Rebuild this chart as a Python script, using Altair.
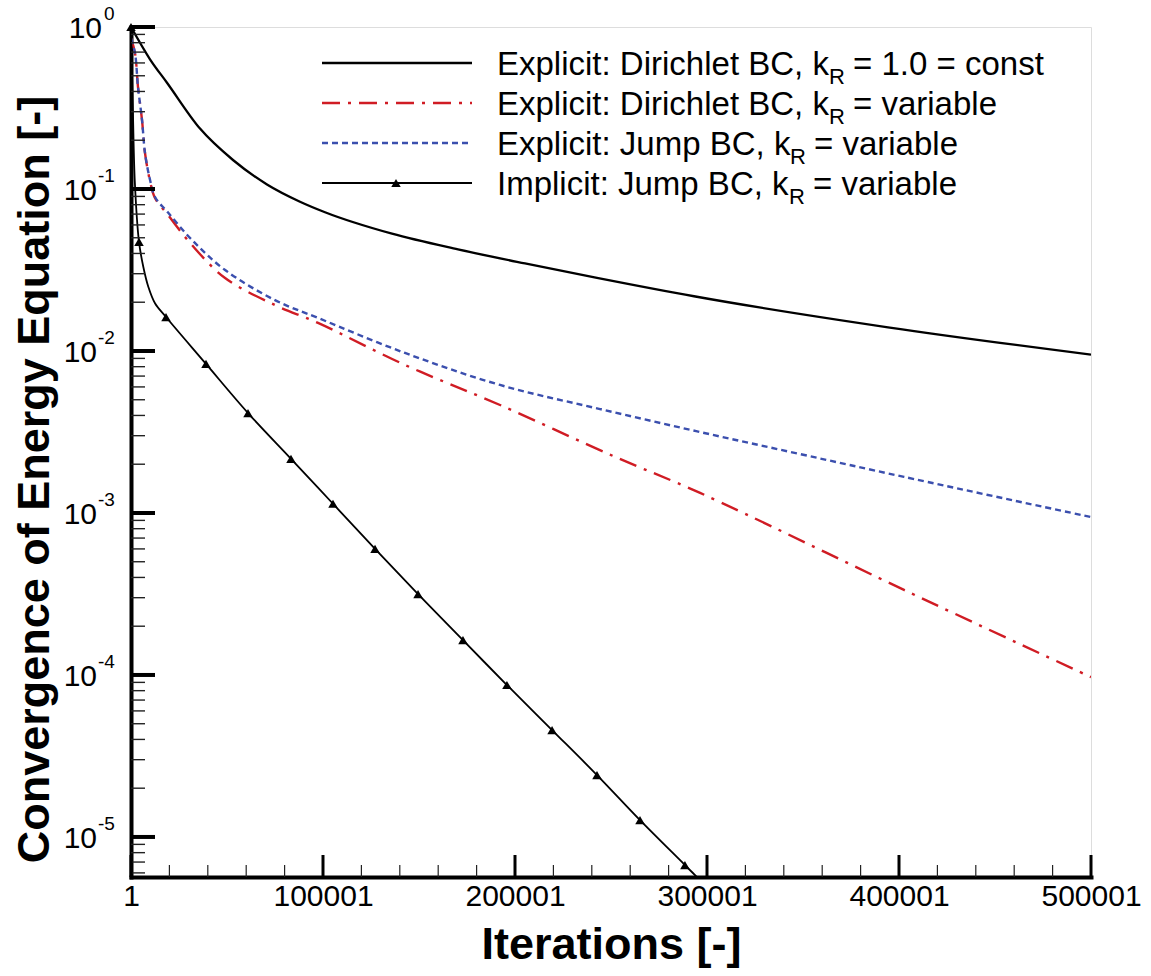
import altair as alt
import pandas as pd

FONT = "Liberation Sans, Arial, Helvetica, sans-serif"

# ---------------- data ----------------
const_iter = [1, 9900, 18750, 35940, 53120, 70830, 88020, 101040, 135940, 170310, 205210, 242700, 293230, 394270, 500001]
const_val = [1.0, 0.632, 0.453, 0.236, 0.151, 0.1067, 0.0835, 0.0719, 0.0530, 0.0424, 0.0347, 0.0283, 0.02177, 0.0140, 0.00949]

dir_iter = [1, 2080, 3650, 5730, 7290, 9900, 12500, 19300, 31800, 49000, 75000, 97400, 142700, 192200, 252100, 296400, 402600, 500001]
dir_val = [0.85, 0.69, 0.426, 0.267, 0.167, 0.112, 0.088, 0.069, 0.045, 0.0282, 0.0192, 0.0149, 0.0082, 0.00464, 0.00222, 0.00133, 0.000335, 0.000097]

jump_iter = [1, 2080, 3650, 5730, 7290, 9900, 12500, 19300, 31800, 49000, 75000, 97400, 142700, 192200, 244300, 296400, 348500, 402600, 500001]
jump_val = [0.85, 0.69, 0.426, 0.267, 0.167, 0.114, 0.0893, 0.0715, 0.0484, 0.0316, 0.0206, 0.0160, 0.00972, 0.00617, 0.00438, 0.00316, 0.00231, 0.00167, 0.000944]

impl_iter = [1, 1000, 2000, 4170, 6400, 9010, 12500, 18230, 39060, 60940, 83330, 105200, 127100, 149500, 172900, 195800, 219300, 242700, 265100, 288500, 300000]
impl_val = [1.0, 0.3, 0.11, 0.0471, 0.0331, 0.0249, 0.0197, 0.0162, 0.00832, 0.00414, 0.00216, 0.00114, 0.00060, 0.000316, 0.000164, 0.0000867, 0.0000457, 0.0000241, 0.0000127, 0.00000671, 0.0000049]

marker_iter = [1, 4170, 18230, 39060, 60940, 83330, 105200, 127100, 149500, 172900, 195800, 219300, 242700, 265100, 288500]
marker_val = [1.0, 0.0471, 0.0162, 0.00832, 0.00414, 0.00216, 0.00114, 0.00060, 0.000316, 0.000164, 0.0000867, 0.0000457, 0.0000241, 0.0000127, 0.00000671]

x_major = [1, 100001, 200001, 300001, 400001, 500001]
x_minor = [1 + 20000 * k for k in range(1, 25) if k % 5 != 0]
y_major = [1.0, 0.1, 0.01, 0.001, 0.0001, 0.00001]
y_exponents = ["0", "-1", "-2", "-3", "-4", "-5"]
y_minor = [m * d for d in [0.1, 0.01, 0.001, 0.0001, 0.00001, 0.000001] for m in range(2, 10) if m * d >= 5.66e-6]

legend_prefix = ["Explicit: Dirichlet BC, k", "Explicit: Dirichlet BC, k", "Explicit: Jump BC, k", "Implicit: Jump BC, k"]
legend_suffix = ["= 1.0 = const", "= variable", "= variable", "= variable"]
legend_sub = "R"

# ---------------- scales / axes ----------------
W, H = 960, 850
xs = alt.Scale(domain=[1, 500001], nice=False, zero=False)
ys = alt.Scale(type="log", domain=[5.66e-6, 1.0], nice=False)

xaxis = alt.Axis(
    values=x_major, format="d", ticks=False, tickSize=0, grid=False,
    domainColor="black", domainWidth=4, domainCap="square",
    labelFont=FONT, labelFontSize=30, labelColor="black", labelPadding=4,
    labelFlush=False, labelOverlap=False,
    title="Iterations [-]", titleFont=FONT, titleFontSize=45, titleFontWeight="bold",
    titleColor="black", titleX=480, titleY=81, titleAlign="center", titleBaseline="alphabetic",
)
yaxis = alt.Axis(
    labels=False, ticks=False, tickSize=0, grid=False,
    domainColor="black", domainWidth=4, domainCap="square",
    title="Convergence of Energy Equation [-]", titleFont=FONT, titleFontSize=45,
    titleFontWeight="bold", titleColor="black", titleAngle=270, titleX=-83, titleY=452,
    titleAlign="center", titleBaseline="alphabetic",
)

X = lambda: alt.X("iter:Q", scale=xs, axis=xaxis)
Y = lambda: alt.Y("val:Q", scale=ys, axis=yaxis)


def df(it, v):
    return pd.DataFrame({"iter": it, "val": v})


layers = []

# curves
layers.append(alt.Chart(df(const_iter, const_val)).mark_line(
    color="black", strokeWidth=2.3, interpolate="monotone", clip=True).encode(x=X(), y=Y()))
layers.append(alt.Chart(df(dir_iter, dir_val)).mark_line(
    color="#d01c24", strokeWidth=2.4, strokeDash=[18, 8, 3, 8], interpolate="catmull-rom", clip=True
).encode(x=X(), y=Y()))
layers.append(alt.Chart(df(jump_iter, jump_val)).mark_line(
    color="#3b4fae", strokeWidth=2.4, strokeDash=[6, 4], interpolate="catmull-rom", clip=True
).encode(x=X(), y=Y()))
layers.append(alt.Chart(df(impl_iter, impl_val)).mark_line(
    color="black", strokeWidth=1.8, interpolate="catmull-rom", clip=True).encode(x=X(), y=Y()))
layers.append(alt.Chart(df(marker_iter, marker_val)).mark_point(
    shape="triangle-up", filled=True, color="black", size=90, opacity=1).encode(x=X(), y=Y()))

# y ticks (inward)
layers.append(alt.Chart(pd.DataFrame({"val": y_major})).mark_rule(
    color="black", strokeWidth=4).encode(y=Y(), x=alt.value(0), x2=alt.value(24)))
layers.append(alt.Chart(pd.DataFrame({"val": y_minor})).mark_rule(
    color="#222222", strokeWidth=1.4).encode(y=Y(), x=alt.value(0), x2=alt.value(14)))
# x ticks (inward)
layers.append(alt.Chart(pd.DataFrame({"iter": x_major})).mark_rule(
    color="black", strokeWidth=3).encode(x=X(), y=alt.value(H), y2=alt.value(H - 22)))
layers.append(alt.Chart(pd.DataFrame({"iter": x_minor})).mark_rule(
    color="#222222", strokeWidth=1.2).encode(x=X(), y=alt.value(H), y2=alt.value(H - 12)))

# y tick labels 10^n (10^0 has a narrower exponent, so it sits further right)
ylab = pd.DataFrame({"val": y_major, "exp": y_exponents})
ylab0 = ylab.iloc[:1]
ylabn = ylab.iloc[1:]
for part, x10, xexp in [(ylab0, -29, -27), (ylabn, -34, -33)]:
    layers.append(alt.Chart(part).mark_text(
        text="10", align="right", baseline="alphabetic", dy=11, font=FONT, fontSize=30, color="black"
    ).encode(y=Y(), x=alt.value(x10)))
    layers.append(alt.Chart(part).mark_text(
        align="left", baseline="alphabetic", dy=-7, font=FONT, fontSize=19, color="black"
    ).encode(y=Y(), x=alt.value(xexp), text="exp:N"))

# legend
one = pd.DataFrame({"k": [0]})
rows_y = [36, 76, 116, 156]
sub_x = [698, 698, 659, 658]
suf_x = [722, 722, 683, 682]
styles = [
    dict(color="black", strokeWidth=2.3),
    dict(color="#d01c24", strokeWidth=2.4, strokeDash=[18, 8, 3, 8]),
    dict(color="#3b4fae", strokeWidth=2.4, strokeDash=[6, 4]),
    dict(color="black", strokeWidth=1.8),
]
for i in range(4):
    yy = rows_y[i]
    layers.append(alt.Chart(one).mark_rule(**styles[i]).encode(
        x=alt.value(191), x2=alt.value(341), y=alt.value(yy)))
    layers.append(alt.Chart(one).mark_text(
        text=legend_prefix[i], align="left", baseline="alphabetic", font=FONT, fontSize=33, color="black"
    ).encode(x=alt.value(366), y=alt.value(yy + 12)))
    layers.append(alt.Chart(one).mark_text(
        text=legend_sub, align="left", baseline="alphabetic", font=FONT, fontSize=22, color="black"
    ).encode(x=alt.value(sub_x[i]), y=alt.value(yy + 21)))
    layers.append(alt.Chart(one).mark_text(
        text=legend_suffix[i], align="left", baseline="alphabetic", font=FONT, fontSize=33, color="black"
    ).encode(x=alt.value(suf_x[i]), y=alt.value(yy + 12)))
layers.append(alt.Chart(one).mark_point(
    shape="triangle-up", filled=True, color="black", size=90, opacity=1
).encode(x=alt.value(265), y=alt.value(rows_y[3])))

chart = alt.layer(*layers).properties(
    width=W, height=H,
    autosize=alt.AutoSizeParams(type="none"),
    padding={"left": 131, "top": 27, "right": 60, "bottom": 99},
).configure_view(stroke=None).configure(background="white")

chart.save("out.html", embed_options={"renderer": "svg", "actions": False})
